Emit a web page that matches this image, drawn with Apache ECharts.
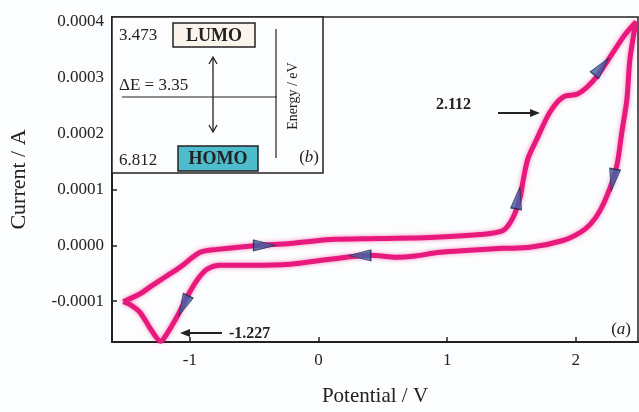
<!DOCTYPE html>
<html>
<head>
<meta charset="utf-8">
<script src="https://cdn.jsdelivr.net/npm/echarts@6/dist/echarts.min.js"></script>
<style>
  html, body { margin: 0; padding: 0; background: #fcfdfe; }
  #main { width: 639px; height: 412px; }
</style>
</head>
<body>
<div id="main"></div>
<script>
// cyclic voltammogram, forward scan then return scan (V, A)
var potential = [-1.519, -1.387, -1.309, -1.193, -1.076, -0.921, -0.789, -0.478, -0.221, 0.089,
  0.478, 0.866, 1.255, 1.434, 1.511, 1.566, 1.589, 1.628, 1.698, 1.799, 1.900, 2.009, 2.086,
  2.164, 2.288, 2.381, 2.467,
  2.420, 2.397, 2.358, 2.319, 2.265, 2.187, 2.110, 2.032, 1.900, 1.643, 1.434, 1.177, 0.944,
  0.734, 0.610, 0.400, 0.089, -0.221, -0.532, -0.765, -0.866, -0.944, -1.022, -1.100, -1.177,
  -1.227, -1.309, -1.387, -1.465, -1.519];
var current = [-1.009e-4, -0.867e-4, -0.743e-4, -0.566e-4, -0.389e-4, -0.124e-4, -0.071e-4, 0.000e-4, 0.035e-4, 0.106e-4,
  0.124e-4, 0.142e-4, 0.195e-4, 0.265e-4, 0.496e-4, 0.850e-4, 1.150e-4, 1.558e-4, 1.912e-4, 2.389e-4, 2.655e-4, 2.708e-4, 2.832e-4,
  3.027e-4, 3.451e-4, 3.770e-4, 4.000e-4,
  3.327e-4, 2.619e-4, 2.035e-4, 1.434e-4, 1.027e-4, 0.619e-4, 0.372e-4, 0.230e-4, 0.088e-4, -0.035e-4, -0.053e-4, -0.088e-4, -0.124e-4,
  -0.195e-4, -0.212e-4, -0.177e-4, -0.248e-4, -0.336e-4, -0.354e-4, -0.354e-4, -0.425e-4, -0.619e-4, -0.920e-4, -1.274e-4, -1.575e-4,
  -1.717e-4, -1.487e-4, -1.204e-4, -1.062e-4, -1.009e-4];

// scan direction arrows on the curve
var arrowX = [-0.42, 1.55, 2.20, 2.29, 0.32, -1.05];
var arrowY = [0.0, 0.85e-4, 3.2e-4, 1.17e-4, -0.18e-4, -1.08e-4];
var arrowAngle = [-90, -10, -40, 170, 90, 155];

// inset (b) energy levels
var lumo = '3.473';
var homo = '6.812';
var gap = 'ΔE = 3.35';

var serif = '"Liberation Serif", "DejaVu Serif", serif';
var ink = '#222';

var cv = potential.map(function (p, i) { return [p, current[i]]; });
var arrows = arrowX.map(function (x, i) {
  return { value: [x, arrowY[i]], symbolRotate: arrowAngle[i] };
});

var chart = echarts.init(document.getElementById('main'), null, { renderer: 'canvas' });

var option = {
  backgroundColor: '#fcfdfe',
  animation: false,
  grid: {
    left: 112, top: 17, width: 526, height: 329,
    show: true, borderColor: ink, borderWidth: 1.5, backgroundColor: 'transparent'
  },
  xAxis: {
    type: 'value',
    min: -1.606, max: 2.483,
    splitNumber: 4,
    name: 'Potential / V',
    nameLocation: 'middle',
    nameGap: 44,
    nameTextStyle: { fontFamily: serif, fontSize: 21, color: ink },
    axisLine: { onZero: false, lineStyle: { color: ink, width: 2 } },
    axisTick: { inside: true, length: 5, lineStyle: { color: ink, width: 1.5 } },
    axisLabel: { fontFamily: serif, fontSize: 17, color: ink, margin: 10,
      showMinLabel: false, showMaxLabel: false },
    splitLine: { show: false }
  },
  yAxis: {
    type: 'value',
    min: -0.000173, max: 0.000409,
    splitNumber: 6,
    name: 'Current / A',
    nameLocation: 'middle',
    nameGap: 82,
    nameTextStyle: { fontFamily: serif, fontSize: 22, color: ink },
    axisLine: { onZero: false, lineStyle: { color: ink, width: 2 } },
    axisTick: { inside: true, length: 5, lineStyle: { color: ink, width: 1.5 } },
    axisLabel: { fontFamily: serif, fontSize: 17, color: ink, margin: 8,
      showMinLabel: false, showMaxLabel: false,
      formatter: function (v) { return v.toFixed(4); } },
    splitLine: { show: false }
  },
  series: [
    {
      type: 'line',
      data: cv,
      smooth: 0.3,
      showSymbol: false,
      lineStyle: { color: '#e8197c', width: 5, shadowBlur: 4, shadowColor: 'rgba(232,25,124,0.5)' },
      z: 2
    },
    {
      type: 'scatter',
      data: arrows,
      symbol: 'triangle',
      symbolSize: [11, 22],
      itemStyle: { color: '#3d63a8', borderColor: '#1b2a4a', borderWidth: 1 },
      z: 3
    }
  ],
  graphic: [
    // inset (b)
    { type: 'rect', z: 100, shape: { x: 112, y: 17, width: 211, height: 156 },
      style: { fill: '#fcfdfe', stroke: ink, lineWidth: 1.5 } },
    { type: 'text', z: 101, x: 119, y: 36,
      style: { text: lumo, font: '17px ' + serif, fill: ink, verticalAlign: 'middle' } },
    { type: 'rect', z: 101, shape: { x: 173, y: 23, width: 82, height: 24 },
      style: { fill: '#fbf4ec', stroke: ink, lineWidth: 1.5 } },
    { type: 'text', z: 102, x: 214, y: 36,
      style: { text: 'LUMO', font: 'bold 18px ' + serif, fill: ink, align: 'center', verticalAlign: 'middle' } },
    { type: 'line', z: 101, shape: { x1: 276, y1: 29, x2: 276, y2: 158 },
      style: { stroke: ink, lineWidth: 1.2 } },
    { type: 'line', z: 101, shape: { x1: 122, y1: 97, x2: 277, y2: 97 },
      style: { stroke: ink, lineWidth: 1.2 } },
    { type: 'text', z: 101, x: 119, y: 86,
      style: { text: gap, font: '17px ' + serif, fill: ink, verticalAlign: 'middle' } },
    { type: 'line', z: 101, shape: { x1: 213, y1: 58, x2: 213, y2: 131 },
      style: { stroke: ink, lineWidth: 1.3 } },
    { type: 'polyline', z: 101, shape: { points: [[209, 64], [213, 57], [217, 64]] },
      style: { stroke: ink, lineWidth: 1.3, fill: null } },
    { type: 'polyline', z: 101, shape: { points: [[209, 125], [213, 132], [217, 125]] },
      style: { stroke: ink, lineWidth: 1.3, fill: null } },
    { type: 'text', z: 101, x: 293, y: 96, rotation: Math.PI / 2,
      style: { text: 'Energy / eV', font: '14px ' + serif, fill: ink, align: 'center', verticalAlign: 'middle' } },
    { type: 'text', z: 101, x: 119, y: 161,
      style: { text: homo, font: '17px ' + serif, fill: ink, verticalAlign: 'middle' } },
    { type: 'rect', z: 101, shape: { x: 178, y: 146, width: 80, height: 25 },
      style: { fill: '#4dbccc', stroke: ink, lineWidth: 1.5 } },
    { type: 'text', z: 102, x: 218, y: 159,
      style: { text: 'HOMO', font: 'bold 18px ' + serif, fill: ink, align: 'center', verticalAlign: 'middle' } },
    { type: 'text', z: 101, x: 319, y: 158,
      style: { text: '({i|b})', font: '17px ' + serif, fill: ink, align: 'right', verticalAlign: 'middle',
        rich: { i: { fontStyle: 'italic', fontFamily: serif, fontSize: 17, fill: ink } } } },
    // peak labels
    { type: 'text', z: 50, x: 436, y: 105,
      style: { text: '2.112', font: 'bold 16px ' + serif, fill: ink, verticalAlign: 'middle' } },
    { type: 'line', z: 50, shape: { x1: 498, y1: 113, x2: 534, y2: 113 },
      style: { stroke: ink, lineWidth: 2 } },
    { type: 'polygon', z: 50, shape: { points: [[540, 113], [530, 109], [530, 117]] },
      style: { fill: ink } },
    { type: 'text', z: 50, x: 229, y: 334,
      style: { text: '-1.227', font: 'bold 16px ' + serif, fill: ink, verticalAlign: 'middle' } },
    { type: 'line', z: 50, shape: { x1: 222, y1: 333, x2: 186, y2: 333 },
      style: { stroke: ink, lineWidth: 2 } },
    { type: 'polygon', z: 50, shape: { points: [[180, 333], [190, 329], [190, 337]] },
      style: { fill: ink } },
    { type: 'text', z: 50, x: 631, y: 330,
      style: { text: '({i|a})', font: '17px ' + serif, fill: ink, align: 'right', verticalAlign: 'middle',
        rich: { i: { fontStyle: 'italic', fontFamily: serif, fontSize: 17, fill: ink } } } }
  ]
};

chart.setOption(option);
</script>
</body>
</html>
